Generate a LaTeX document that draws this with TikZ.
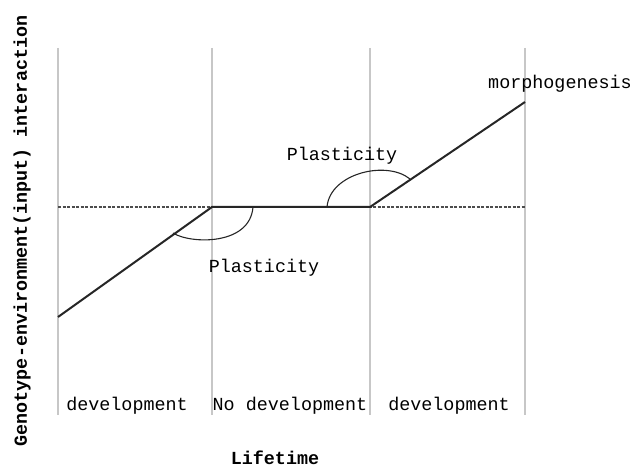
\documentclass[tikz,border=0pt]{standalone}
\usepackage{fontspec}
\setmonofont{Liberation Mono}
\begin{document}
\begin{tikzpicture}[x=1pt,y=-1pt,
  lbl/.style={font=\fontsize{18.4}{20}\selectfont\ttfamily, inner sep=0pt},
  ttl/.style={font=\fontsize{18.4}{20}\selectfont\ttfamily\bfseries, inner sep=0pt},
  sepline/.style={draw=black!22, line width=1.2pt},
  curve/.style={draw=black!85, line width=2pt},
  arcs/.style={draw=black!85, line width=1.1pt},
  baseln/.style={draw=black!70, line width=1.1pt, dash pattern=on 3pt off 1.5pt}]
\useasboundingbox (0,0) rectangle (633,468);
% vertical separators
\foreach \n/\x in {v1/58,v2/212,v3/370,v4/525}{
  \coordinate (\n t) at (\x,48);
  \coordinate (\n b) at (\x,415);
  \draw[sepline] (\n t) -- (\n b);
}
% baseline
\coordinate (d0) at (58,207);
\coordinate (d1) at (525,207);
\draw[baseln] (d0) -- (d1);
% main trajectory
\coordinate (p0) at (58,317);
\coordinate (p1) at (212,207);
\coordinate (p2) at (370,207);
\coordinate (p3) at (525,102);
\draw[curve] (p0) -- (p1) -- (p2) -- (p3);
% plasticity arcs
\coordinate (a1s) at (173,233);
\coordinate (a1e) at (253,207);
\draw[arcs] (a1s) .. controls (190,244) and (250,246) .. (a1e);
\coordinate (a2s) at (327,207);
\coordinate (a2e) at (410,179);
\draw[arcs] (a2s) .. controls (330,173) and (387,160) .. (a2e);
% labels
\node[lbl] (pl1) at (264,268) {Plasticity};
\node[lbl] (pl2) at (342,156) {Plasticity};
\node[lbl] (mor) at (560,84) {morphogenesis};
\node[lbl] (dev1) at (127,406) {development};
\node[lbl] (nodev) at (290,406) {No development};
\node[lbl] (dev2) at (449,406) {development};
\node[ttl] (xt) at (275,458) {Lifetime};
\node[ttl, rotate=90] (yt) at (22,231) {Genotype-environment(input) interaction};
\end{tikzpicture}
\end{document}
